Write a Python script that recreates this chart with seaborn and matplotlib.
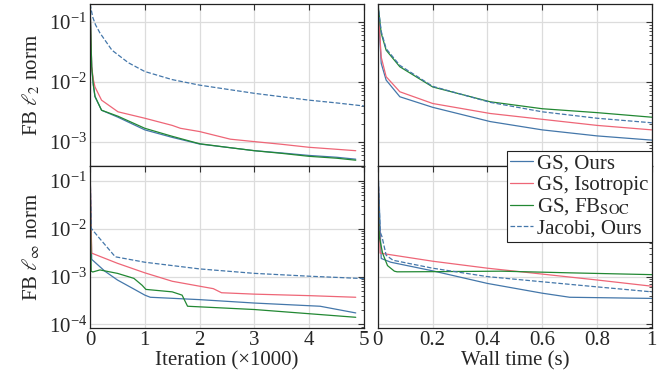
import numpy as np
import pandas as pd
import matplotlib.pyplot as plt
import matplotlib.ticker as mticker
import seaborn as sns

# ---- data (iterations in thousands, time in seconds) ----
labels = ["GS, Ours", "GS, Isotropic", r"GS, FB$_{\mathrm{SOC}}$", "Jacobi, Ours"]

# FB l2 norm vs iteration
it_l2_ours = [0, 0.03, 0.06, 0.09, 0.21, 0.51, 1.0, 1.5, 2.0, 2.5, 3.0, 3.5, 4.0, 4.5, 4.85]
l2_it_ours = [0.2, 0.018, 0.009, 0.0057, 0.0034, 0.0026, 0.0016, 0.0012, 0.00093, 0.00082, 0.00072, 0.00066, 0.0006, 0.00056, 0.00052]
it_l2_iso = [0, 0.03, 0.06, 0.09, 0.21, 0.51, 1.0, 1.5, 1.65, 2.0, 2.56, 3.0, 3.5, 4.0, 4.5, 4.85]
l2_it_iso = [0.2, 0.018, 0.011, 0.0083, 0.005, 0.0032, 0.0025, 0.0019, 0.0017, 0.0015, 0.00112, 0.00102, 0.00092, 0.00082, 0.00076, 0.00072]
it_l2_soc = [0, 0.03, 0.06, 0.09, 0.21, 0.51, 1.0, 1.5, 2.0, 2.5, 3.0, 3.5, 4.0, 4.5, 4.85]
l2_it_soc = [0.2, 0.018, 0.009, 0.0058, 0.0034, 0.0027, 0.0017, 0.00125, 0.00094, 0.00082, 0.00072, 0.00065, 0.00058, 0.00054, 0.0005]
it_l2_jac = [0, 0.05, 0.1, 0.18, 0.4, 0.7, 1.0, 1.5, 2.0, 2.5, 3.0, 3.5, 4.0, 4.5, 5.0]
l2_it_jac = [0.2, 0.12, 0.09, 0.066, 0.034, 0.021, 0.015, 0.011, 0.0089, 0.0076, 0.0065, 0.0057, 0.005, 0.0045, 0.004]

# FB l2 norm vs wall time
t_l2 = [0, 0.012, 0.03, 0.08, 0.2, 0.41, 0.6, 0.8, 1.0]
l2_t_ours = [0.2, 0.0205, 0.0108, 0.0057, 0.0038, 0.0022, 0.0016, 0.00127, 0.00108]
l2_t_iso = [0.2, 0.026, 0.0123, 0.0069, 0.0044, 0.003, 0.0024, 0.0019, 0.0016]
l2_t_soc = [0.2, 0.065, 0.034, 0.018, 0.0083, 0.0047, 0.0036, 0.0031, 0.0026]
l2_t_jac = [0.2, 0.07, 0.036, 0.019, 0.0085, 0.0046, 0.0032, 0.0025, 0.0021]

# FB l_inf norm vs iteration
it_inf_ours = [0, 0.03, 0.27, 0.5, 0.8, 1.0, 1.1, 2.0, 3.0, 4.2, 4.85]
inf_it_ours = [0.2, 0.0023, 0.0013, 0.00085, 0.00055, 0.00041, 0.00037, 0.00033, 0.00028, 0.00024, 0.000174]
it_inf_iso = [0, 0.03, 0.5, 1.0, 1.5, 2.0, 2.25, 2.4, 3.0, 4.0, 4.85]
inf_it_iso = [0.2, 0.0031, 0.0019, 0.0012, 0.0008, 0.00063, 0.00056, 0.00046, 0.00043, 0.0004, 0.00037]
it_inf_soc = [0, 0.02, 0.05, 0.18, 0.5, 0.8, 0.95, 1.02, 1.5, 1.68, 1.78, 3.0, 4.85]
inf_it_soc = [0.2, 0.0013, 0.00125, 0.00138, 0.00117, 0.00092, 0.00066, 0.00054, 0.00048, 0.00041, 0.00024, 0.000205, 0.000141]
it_inf_jac = [0, 0.02, 0.15, 0.46, 1.0, 2.0, 3.0, 4.0, 5.0]
inf_it_jac = [0.2, 0.0103, 0.0068, 0.0026, 0.002, 0.00145, 0.00117, 0.00102, 0.00091]

# FB l_inf norm vs wall time
t_inf_ours = [0, 0.012, 0.047, 0.2, 0.4, 0.6, 0.7, 1.0]
inf_t_ours = [0.2, 0.0024, 0.002, 0.00132, 0.00072, 0.00045, 0.00037, 0.00035]
t_inf_iso = [0, 0.008, 0.2, 0.4, 0.6, 0.8, 1.0]
inf_t_iso = [0.2, 0.0031, 0.0021, 0.0015, 0.00113, 0.00085, 0.00063]
t_inf_soc = [0, 0.005, 0.017, 0.035, 0.06, 0.07, 0.2, 0.45, 0.7, 1.0]
inf_t_soc = [0.2, 0.0068, 0.0031, 0.0017, 0.0013, 0.00126, 0.00127, 0.0013, 0.0012, 0.0011]
t_inf_jac = [0, 0.008, 0.015, 0.03, 0.055, 0.2, 0.4, 0.6, 0.8, 1.0]
inf_t_jac = [0.2, 0.0087, 0.0068, 0.0028, 0.0022, 0.0015, 0.001, 0.00078, 0.00061, 0.00048]

colors = ["#4477AA", "#EE6677", "#228833", "#4477AA"]
styles = ["-", "-", "-", "--"]

panels = [
    [(it_l2_ours, l2_it_ours), (it_l2_iso, l2_it_iso), (it_l2_soc, l2_it_soc), (it_l2_jac, l2_it_jac)],
    [(t_l2, l2_t_ours), (t_l2, l2_t_iso), (t_l2, l2_t_soc), (t_l2, l2_t_jac)],
    [(it_inf_ours, inf_it_ours), (it_inf_iso, inf_it_iso), (it_inf_soc, inf_it_soc), (it_inf_jac, inf_it_jac)],
    [(t_inf_ours, inf_t_ours), (t_inf_iso, inf_t_iso), (t_inf_soc, inf_t_soc), (t_inf_jac, inf_t_jac)],
]

FS = 15

# ---- style ----
sns.set_theme(style="whitegrid", rc={
    "grid.color": "#dcdcdc",
    "grid.linewidth": 0.9,
    "axes.edgecolor": "#222222",
    "axes.linewidth": 0.9,
})
plt.rcParams['font.family'] = ['Liberation Serif', 'DejaVu Serif']
plt.rcParams['mathtext.fontset'] = 'stix'
plt.rcParams['font.size'] = FS

fig, axes = plt.subplots(2, 2, figsize=(6.72, 3.81), dpi=100)
fig.subplots_adjust(left=0.134, right=0.970, bottom=0.139, top=0.9895, hspace=0, wspace=0.051)

for ax, series in zip(axes.flat, panels):
    for (xs, ys), lab, c, ls in zip(series, labels, colors, styles):
        sns.lineplot(x=xs, y=ys, ax=ax, color=c, linestyle=ls, linewidth=0.9,
                     estimator=None, sort=False, label=lab, legend=False)
    ax.set_yscale('log')
    # every decade labelled, all minor ticks shown
    ax.yaxis.set_major_locator(mticker.LogLocator(base=10, numticks=20))
    ax.yaxis.set_minor_locator(mticker.LogLocator(base=10, subs=np.arange(2, 10), numticks=20))
    ax.yaxis.set_minor_formatter(mticker.NullFormatter())
    ax.tick_params(which='both', direction='in', top=True, right=True,
                   labelsize=FS, color='#333333', pad=2)
    ax.tick_params(which='major', length=4, width=0.8)
    ax.tick_params(which='minor', length=2.2, width=0.6)
    ax.grid(True, which='major')
    ax.grid(False, which='minor')

# y ranges
for ax in axes[0]:
    ax.set_ylim(4e-4, 0.2)
for ax in axes[1]:
    ax.set_ylim(8.4e-5, 0.206)

# x ranges
for ax in axes[:, 0]:
    ax.set_xlim(0, 5)
    ax.set_xticks([0, 1, 2, 3, 4, 5])
for ax in axes[:, 1]:
    ax.set_xlim(0, 1)
    ax.set_xticks([0, 0.2, 0.4, 0.6, 0.8, 1.0])
axes[1, 1].set_xticklabels(["0", "0.2", "0.4", "0.6", "0.8", "1"])

for ax in axes[0]:
    ax.tick_params(labelbottom=False)
for ax in axes[:, 1]:
    ax.tick_params(labelleft=False)

axes[0, 0].set_ylabel(r"FB $\ell_2$ norm", fontsize=FS, labelpad=5)
axes[1, 0].set_ylabel(r"FB $\ell_\infty$ norm", fontsize=FS, labelpad=5)
axes[1, 0].set_xlabel("Iteration (×1000)", fontsize=FS, labelpad=1)
axes[1, 1].set_xlabel("Wall time (s)", fontsize=FS, labelpad=1)
fig.align_ylabels(axes[:, 0])

# legend straddles the two right panels
leg = axes[1, 1].legend(loc='upper right', bbox_to_anchor=(1.0, 1.093), borderaxespad=0,
                        fontsize=FS, frameon=True, fancybox=False, framealpha=1,
                        edgecolor='#222222', handlelength=1.1, handletextpad=0.2,
                        borderpad=0.15, labelspacing=0.08)
leg.get_frame().set_linewidth(0.8)
leg.set_zorder(10)

fig.savefig("out.png", dpi=100)
